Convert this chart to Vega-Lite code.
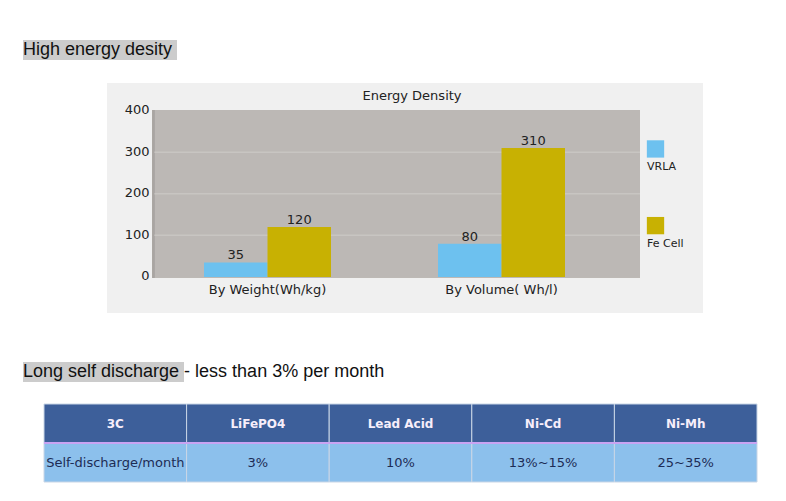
{
  "$schema": "https://vega.github.io/schema/vega-lite/v6.json",
  "background": "white",
  "padding": {"left": 23, "top": 40, "right": 0, "bottom": 0},
  "config": {"view": {"stroke": null}, "font": "DejaVu Sans"},
  "datasets": {
    "energy": [
      {"measure": "By Weight(Wh/kg)", "battery": "VRLA", "density": 35},
      {"measure": "By Weight(Wh/kg)", "battery": "Fe Cell", "density": 120},
      {"measure": "By Volume( Wh/l)", "battery": "VRLA", "density": 80},
      {"measure": "By Volume( Wh/l)", "battery": "Fe Cell", "density": 310}
    ],
    "legendItems": [{"battery": "VRLA"}, {"battery": "Fe Cell"}],
    "gridlines": [{"level": 100}, {"level": 200}, {"level": 300}],
    "discharge": [
      {"col": "3C", "row": "header", "text": "3C"},
      {"col": "LiFePO4", "row": "header", "text": "LiFePO4"},
      {"col": "Lead Acid", "row": "header", "text": "Lead Acid"},
      {"col": "Ni-Cd", "row": "header", "text": "Ni-Cd"},
      {"col": "Ni-Mh", "row": "header", "text": "Ni-Mh"},
      {"col": "3C", "row": "data", "text": "Self-discharge/month"},
      {"col": "LiFePO4", "row": "data", "text": "3%"},
      {"col": "Lead Acid", "row": "data", "text": "10%"},
      {"col": "Ni-Cd", "row": "data", "text": "13%~15%"},
      {"col": "Ni-Mh", "row": "data", "text": "25~35%"}
    ],
    "heading1": [{"heading": "High energy desity"}],
    "heading2": [{"heading": "Long self discharge - less than 3% per month"}]
  },
  "spacing": 49,
  "vconcat": [
    {
      "spacing": 23,
      "vconcat": [
        {
          "width": 154,
          "height": 20,
          "view": {"fill": "#cccccc", "stroke": null},
          "data": {"name": "heading1"},
          "mark": {"type": "text", "font": "Liberation Sans", "fontSize": 18, "align": "left", "baseline": "middle", "color": "#111111"},
          "encoding": {
            "text": {"field": "heading", "type": "nominal"},
            "x": {"field": "heading", "type": "nominal", "axis": null, "scale": {"type": "point", "padding": 0, "align": 0}}
          }
        },
        {
          "spacing": 20,
          "hconcat": [
            {
              "width": 64,
              "height": 1,
              "data": {"values": [{}]},
              "mark": {"type": "rect", "opacity": 0},
              "encoding": {}
            },
            {
              "width": 596,
              "height": 230,
              "view": {"fill": "#f0f0f0", "stroke": null},
              "title": {"text": "Energy Density", "font": "DejaVu Sans", "fontSize": 13, "fontWeight": "normal", "color": "#222222", "anchor": "middle", "frame": "group", "offset": -20, "dx": 7},
              "resolve": {"scale": {"x": "independent", "y": "independent"}},
              "layer": [
                {
                  "data": {"name": "gridlines"},
                  "layer": [
                    {
                      "mark": {"type": "rect", "color": "#bcb8b5"},
                      "encoding": {
                        "x": {"datum": 0, "type": "quantitative", "scale": {"domain": [-0.092213, 1.129098], "nice": false, "zero": false}, "axis": null},
                        "x2": {"datum": 1},
                        "y": {"datum": -2, "type": "quantitative", "scale": {"domain": [-86.49, 466.07], "nice": false, "zero": false}, "axis": null},
                        "y2": {"datum": 401}
                      }
                    },
                    {
                      "mark": {"type": "rule", "color": "#a9a5a2", "strokeWidth": 2},
                      "encoding": {
                        "x": {"datum": 0.003, "type": "quantitative", "scale": {"domain": [-0.092213, 1.129098], "nice": false, "zero": false}, "axis": null},
                        "y": {"datum": -2, "type": "quantitative", "scale": {"domain": [-86.49, 466.07], "nice": false, "zero": false}, "axis": null},
                        "y2": {"datum": 401}
                      }
                    },
                    {
                      "mark": {"type": "rule", "color": "#c8c5c2", "strokeWidth": 1.5},
                      "encoding": {
                        "x": {"datum": 0.005, "type": "quantitative", "scale": {"domain": [-0.092213, 1.129098], "nice": false, "zero": false}, "axis": null},
                        "x2": {"datum": 1},
                        "y": {"field": "level", "type": "quantitative", "scale": {"domain": [-86.49, 466.07], "nice": false, "zero": false}, "axis": null}
                      }
                    }
                  ]
                },
                {
                  "data": {"name": "energy"},
                  "encoding": {
                    "x": {
                      "field": "measure",
                      "type": "nominal",
                      "scale": {"domain": ["By Weight(Wh/kg)", "By Volume( Wh/l)"], "paddingInner": 0.45726, "paddingOuter": 0.50214, "align": 0.41277},
                      "axis": {"orient": "bottom", "offset": -35, "title": null, "domain": false, "ticks": false, "tickSize": 0, "grid": false, "labelPadding": 5, "labelFontSize": 13, "labelFont": "DejaVu Sans", "labelColor": "#222222", "labelAngle": 0}
                    },
                    "xOffset": {"field": "battery", "type": "nominal", "scale": {"domain": ["VRLA", "Fe Cell"], "paddingInner": 0, "paddingOuter": 0}},
                    "y": {
                      "field": "density",
                      "type": "quantitative",
                      "scale": {"domain": [-86.49, 466.07], "nice": false, "zero": false},
                      "axis": {"orient": "left", "offset": -45, "title": null, "domain": false, "ticks": false, "tickSize": 0, "grid": false, "values": [0, 100, 200, 300, 400], "labelPadding": 3, "labelFontSize": 13, "labelFont": "DejaVu Sans", "labelColor": "#222222", "labelOffset": -1}
                    }
                  },
                  "layer": [
                    {
                      "mark": {"type": "bar"},
                      "encoding": {
                        "y2": {"datum": 0},
                        "color": {"field": "battery", "type": "nominal", "scale": {"domain": ["VRLA", "Fe Cell"], "range": ["#6dc1ef", "#c8b102"]}, "legend": null}
                      }
                    },
                    {
                      "mark": {"type": "text", "baseline": "alphabetic", "dy": -3, "fontSize": 13, "color": "#222222"},
                      "encoding": {"text": {"field": "density", "type": "quantitative"}}
                    }
                  ]
                },
                {
                  "data": {"name": "legendItems"},
                  "encoding": {
                    "x": {"datum": 1.031762, "type": "quantitative", "scale": {"domain": [-0.092213, 1.129098], "nice": false, "zero": false}, "axis": null},
                    "y": {"field": "battery", "type": "nominal", "scale": {"type": "point", "domain": ["VRLA", "Fe Cell"], "padding": 1.0395, "align": 0.4301}, "axis": null}
                  },
                  "layer": [
                    {
                      "mark": {"type": "square", "size": 300, "opacity": 1},
                      "encoding": {"color": {"field": "battery", "type": "nominal", "scale": {"domain": ["VRLA", "Fe Cell"], "range": ["#6dc1ef", "#c8b102"]}, "legend": null}}
                    },
                    {
                      "mark": {"type": "text", "align": "left", "dx": -8.5, "dy": 18, "baseline": "middle", "fontSize": 11, "color": "#222222"},
                      "encoding": {"text": {"field": "battery", "type": "nominal"}}
                    }
                  ]
                }
              ]
            }
          ]
        }
      ]
    },
    {
      "spacing": 21,
      "vconcat": [
        {
          "width": 161,
          "height": 20,
          "view": {"fill": "#cccccc", "stroke": null},
          "data": {"name": "heading2"},
          "mark": {"type": "text", "font": "Liberation Sans", "fontSize": 18, "align": "left", "baseline": "middle", "color": "#111111"},
          "encoding": {
            "text": {"field": "heading", "type": "nominal"},
            "x": {"field": "heading", "type": "nominal", "axis": null, "scale": {"type": "point", "padding": 0, "align": 0}}
          }
        },
        {
          "spacing": 10,
          "hconcat": [
            {
              "width": 10,
              "height": 1,
              "data": {"values": [{}]},
              "mark": {"type": "rect", "opacity": 0},
              "encoding": {}
            },
            {
              "width": 713,
              "height": 78,
              "data": {"name": "discharge"},
              "layer": [
                {
                  "mark": {"type": "rect", "stroke": "#c9d6e6", "strokeWidth": 1},
                  "encoding": {
                    "x": {"field": "col", "type": "nominal", "scale": {"domain": ["3C", "LiFePO4", "Lead Acid", "Ni-Cd", "Ni-Mh"], "paddingInner": 0, "paddingOuter": 0}, "axis": null},
                    "y": {"field": "row", "type": "nominal", "scale": {"domain": ["header", "data"], "paddingInner": 0, "paddingOuter": 0}, "axis": null},
                    "fill": {"field": "row", "type": "nominal", "scale": {"domain": ["header", "data"], "range": ["#3d5f9a", "#8cc0ec"]}, "legend": null}
                  }
                },
                {
                  "mark": {"type": "rule", "color": "#c9a3f2", "strokeWidth": 2},
                  "encoding": {
                    "y": {"datum": "data", "type": "nominal", "bandPosition": 0, "axis": null}
                  }
                },
                {
                  "transform": [{"filter": "datum.row === 'header'"}],
                  "mark": {"type": "text", "fontWeight": "bold", "fontSize": 12, "color": "#f7eefa", "baseline": "middle"},
                  "encoding": {
                    "x": {"field": "col", "type": "nominal", "axis": null},
                    "y": {"field": "row", "type": "nominal", "axis": null},
                    "text": {"field": "text", "type": "nominal"}
                  }
                },
                {
                  "transform": [{"filter": "datum.row === 'data'"}],
                  "mark": {"type": "text", "fontSize": 13, "color": "#1d2c55", "baseline": "middle"},
                  "encoding": {
                    "x": {"field": "col", "type": "nominal", "axis": null},
                    "y": {"field": "row", "type": "nominal", "axis": null},
                    "text": {"field": "text", "type": "nominal"}
                  }
                }
              ]
            }
          ]
        }
      ]
    }
  ]
}
